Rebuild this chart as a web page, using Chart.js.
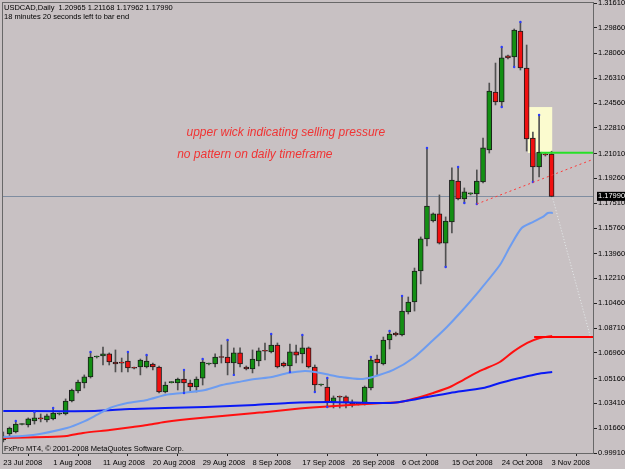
<!DOCTYPE html>
<html>
<head>
<meta charset="utf-8">
<title>USDCAD Daily</title>
<script src="https://cdn.jsdelivr.net/npm/chart.js@4.4.1/dist/chart.umd.min.js"></script>
<style>
  html, body { margin: 0; padding: 0; background: #c8c1c3; }
  #chart { display: block; }
</style>
</head>
<body>
<canvas id="chart" width="625" height="469"></canvas>
<script>
// USDCAD daily bars, 23 Jul 2008 .. 3 Nov 2008 (broker feed with Sunday bars)
const dateLabels = ['23 Jul 2008', '1 Aug 2008', '11 Aug 2008', '20 Aug 2008', '29 Aug 2008', '8 Sep 2008',
    '17 Sep 2008', '26 Sep 2008', '6 Oct 2008', '15 Oct 2008', '24 Oct 2008', '3 Nov 2008'];
const labelStep = 8; // one date label every 8 bars

const opens = [1.0083, 1.0125, 1.0139, 1.0192, 1.0188, 1.0217, 1.0238, 1.0224, 1.0231, 1.0266,
    1.0266, 1.0357, 1.0428, 1.0484, 1.0527, 1.0667, 1.0674, 1.0689, 1.0632, 1.0625,
    1.0639, 1.0590, 1.0597, 1.0597, 1.0618, 1.0597, 1.0421, 1.0487, 1.0484, 1.0512,
    1.0484, 1.0456, 1.0519, 1.0618, 1.0618, 1.0667, 1.0667, 1.0625, 1.0696, 1.0597,
    1.0583, 1.0639, 1.0710, 1.0703, 1.0752, 1.0625, 1.0604, 1.0703, 1.0689, 1.0731,
    1.0597, 1.0470, 1.0456, 1.0350, 1.0386, 1.0386, 1.0343, 1.0336, 1.0336, 1.0449,
    1.0653, 1.0618, 1.0787, 1.0836, 1.0822, 1.0984, 1.1055, 1.1273, 1.1499, 1.1625,
    1.1675, 1.1470, 1.1618, 1.1907, 1.1780, 1.1816, 1.1816, 1.1900, 1.2126, 1.2534,
    1.2464, 1.2788, 1.2781, 1.2964, 1.2703, 1.2210, 1.2006, 1.2097, 1.20965];
const highs = [1.0139, 1.0174, 1.0217, 1.0199, 1.0238, 1.0280, 1.0266, 1.0266, 1.0308, 1.0273,
    1.0372, 1.0442, 1.0505, 1.0541, 1.0703, 1.0674, 1.0738, 1.0696, 1.0717, 1.0660,
    1.0703, 1.0597, 1.0653, 1.0681, 1.0625, 1.0604, 1.0491, 1.0494, 1.0519, 1.0576,
    1.0505, 1.0527, 1.0653, 1.0625, 1.0689, 1.0752, 1.0787, 1.0731, 1.0731, 1.0604,
    1.0717, 1.0731, 1.0766, 1.0829, 1.0766, 1.0632, 1.0759, 1.0752, 1.0822, 1.0738,
    1.0611, 1.0477, 1.0519, 1.0393, 1.0393, 1.0393, 1.0365, 1.0343, 1.0463, 1.0667,
    1.0681, 1.0808, 1.0851, 1.0843, 1.1097, 1.1090, 1.1294, 1.1513, 1.2140, 1.1682,
    1.1809, 1.1654, 1.1999, 1.2006, 1.1858, 1.1823, 1.1985, 1.2210, 1.2597, 1.2738,
    1.2851, 1.2795, 1.2978, 1.3027, 1.2865, 1.2252, 1.2372, 1.2104, 1.21168];
const lows = [1.0069, 1.0104, 1.0132, 1.0188, 1.0174, 1.0195, 1.0210, 1.0210, 1.0224, 1.0259,
    1.0259, 1.0350, 1.0414, 1.0449, 1.0519, 1.0660, 1.0611, 1.0611, 1.0562, 1.0562,
    1.0562, 1.0583, 1.0541, 1.0590, 1.0576, 1.0414, 1.0414, 1.0484, 1.0435, 1.0414,
    1.0421, 1.0421, 1.0470, 1.0611, 1.0597, 1.0625, 1.0541, 1.0541, 1.0597, 1.0576,
    1.0555, 1.0604, 1.0646, 1.0696, 1.0590, 1.0597, 1.0562, 1.0625, 1.0625, 1.0590,
    1.0421, 1.0463, 1.0315, 1.0308, 1.0308, 1.0308, 1.0315, 1.0329, 1.0329, 1.0435,
    1.0541, 1.0611, 1.0724, 1.0815, 1.0815, 1.0970, 1.0991, 1.1182, 1.1449, 1.1618,
    1.1463, 1.1301, 1.1541, 1.1773, 1.1752, 1.1809, 1.1745, 1.1893, 1.2104, 1.2443,
    1.2428, 1.2767, 1.2710, 1.2689, 1.2118, 1.1900, 1.1935, 1.2083, 1.17962];
const closes = [1.0111, 1.0167, 1.0195, 1.0195, 1.0231, 1.0238, 1.0231, 1.0252, 1.0273, 1.0268,
    1.0357, 1.0435, 1.0491, 1.0527, 1.0667, 1.0669, 1.0689, 1.0632, 1.0618, 1.0624,
    1.0590, 1.0588, 1.0646, 1.0639, 1.0597, 1.0421, 1.0470, 1.0491, 1.0512, 1.0484,
    1.0456, 1.0512, 1.0632, 1.0620, 1.0667, 1.0664, 1.0625, 1.0696, 1.0618, 1.0583,
    1.0653, 1.0710, 1.0708, 1.0752, 1.0597, 1.0604, 1.0703, 1.0681, 1.0731, 1.0597,
    1.0470, 1.0472, 1.0350, 1.0379, 1.0384, 1.0343, 1.0329, 1.0338, 1.0456, 1.0646,
    1.0625, 1.0787, 1.0829, 1.0822, 1.0991, 1.1055, 1.1273, 1.1499, 1.1731, 1.1675,
    1.1470, 1.1625, 1.1914, 1.1780, 1.1830, 1.1818, 1.1907, 1.2140, 1.2541, 1.2464,
    1.2774, 1.2774, 1.2971, 1.2703, 1.2203, 1.2006, 1.2111, 1.2090, 1.17990];

// moving averages as [bar, price]
const maFast = [[0, 1.0104], [4.8, 1.0118], [10.2, 1.0167], [12.8, 1.0210], [15, 1.0259], [17.1, 1.0308],
    [19.9, 1.0343], [23.1, 1.0365], [26, 1.0400], [28.7, 1.0414], [32.4, 1.0435], [35.1, 1.0470],
    [37.7, 1.0491], [40.4, 1.0512], [43.1, 1.0527], [45.7, 1.0555], [48.4, 1.0569], [50, 1.0562],
    [52.4, 1.0541], [54, 1.0527], [57.3, 1.0512], [59.3, 1.0527], [62.6, 1.0576], [65.8, 1.0660],
    [69, 1.0787], [71.2, 1.0879], [73.3, 1.0977], [76.5, 1.1139], [79.7, 1.1315], [81.3, 1.1442],
    [83.2, 1.1576], [85, 1.1618], [86.6, 1.1654], [87.4, 1.1682], [88.2, 1.1682]];
const maSlowBlue = [[0, 1.0287], [14.7, 1.0287], [20.3, 1.0301], [25.9, 1.0308], [32.4, 1.0315],
    [40.4, 1.0329], [45.7, 1.0343], [52.4, 1.0350], [62.1, 1.0343], [66.4, 1.0372], [71.7, 1.0414],
    [77, 1.0449], [79.7, 1.0484], [82.9, 1.0519], [85.7, 1.0548], [88.1, 1.0562]];
const maSlowRed = [[0, 1.0097], [7, 1.0104], [10.2, 1.0111], [12.8, 1.0132], [17.1, 1.0153], [20.8, 1.0174],
    [23.1, 1.0188], [25.9, 1.0210], [31.6, 1.0238], [40.4, 1.0273], [42.3, 1.0280], [46.8, 1.0301],
    [50.8, 1.0315], [55.6, 1.0329], [60.9, 1.0343], [63.7, 1.0350], [66.4, 1.0379], [69, 1.0414],
    [71.7, 1.0456], [73.8, 1.0505], [76.5, 1.0569], [79.7, 1.0632], [81.8, 1.0703], [84.1, 1.0766],
    [86.1, 1.0801], [88.1, 1.0815]];

// fractal markers (bar indexes)
const fractalUp = [2, 5, 8, 14, 20, 23, 29, 32, 36, 43, 48, 52, 59, 62, 64, 68, 73, 80, 83, 86];
const fractalDown = [29, 37, 46, 50, 52, 71, 74, 76, 80, 82, 85];

// drawn objects
const trendLine = [[76.0, 1.1745], [94.8, 1.2062]];
const greenLevel = [[86.2, 1.2106], [94.81, 1.2106]];
const redLevel = [[85.2, 1.0808], [94.81, 1.0808]];
const projection = [[88.2, 1.1783], [94.2, 1.0815]];
const boxBars = [84.2, 88.1];
const boxPrices = [1.2104, 1.2428];
const bidPrice = 1.17990;

const priceTicks = [1.31610, 1.29860, 1.28060, 1.26310, 1.24560, 1.22810, 1.21010, 1.19260, 1.17510,
    1.15760, 1.13960, 1.12210, 1.10460, 1.08710, 1.06960, 1.05160, 1.03410, 1.01660, 0.99910];

const header1 = 'USDCAD,Daily  1.20965 1.21168 1.17962 1.17990';
const header2 = '18 minutes 20 seconds left to bar end';
const footer = 'FxPro MT4, \u00a9 2001-2008 MetaQuotes Software Corp.';
const notes = [
    { text: 'upper wick indicating selling pressure', bar: 29.4, price: 1.2245 },
    { text: 'no pattern on daily timeframe', bar: 27.9, price: 1.2090 }
];

const smallFont = "7.5px 'Liberation Sans', Arial, sans-serif";
const axisFont = { family: "'Liberation Sans', Arial, sans-serif", size: 7.5 };
const bullColor = '#138f13';
const bearColor = '#f01010';

const toPoints = arr => arr.map(p => ({ x: p[0], y: p[1] }));

const bodies = opens.map((o, i) => ({ x: i, y: [o, closes[i]] }));
const wicks = opens.map((o, i) => ({ x: i, y: [lows[i], highs[i]] }));
const bodyColors = opens.map((o, i) => closes[i] > o ? bullColor : bearColor);

// MT4 chart background (average of the dithered pink / grey)
const backgroundPlugin = {
    id: 'mtBackground',
    beforeDraw(chart) {
        const ctx = chart.ctx;
        ctx.save();
        ctx.fillStyle = '#c8c1c3';
        ctx.fillRect(0, 0, chart.width, chart.height);
        ctx.restore();
    }
};

const objectsPlugin = {
    id: 'mtObjects',
    beforeDatasetsDraw(chart) {
        const { ctx, chartArea: a, scales: { x, y } } = chart;
        ctx.save();
        // highlight rectangle
        const x1 = x.getPixelForValue(boxBars[0]);
        const x2 = x.getPixelForValue(boxBars[1]);
        const y1 = y.getPixelForValue(boxPrices[1]);
        const y2 = y.getPixelForValue(boxPrices[0]);
        ctx.fillStyle = '#fbfbcf';
        ctx.fillRect(x1, y1, x2 - x1, y2 - y1);
        // bid line
        const by = Math.round(y.getPixelForValue(bidPrice)) + 0.5;
        ctx.strokeStyle = '#7f8da0';
        ctx.lineWidth = 1;
        ctx.beginPath();
        ctx.moveTo(a.left, by);
        ctx.lineTo(a.right, by);
        ctx.stroke();
        ctx.restore();
    },
    afterDraw(chart) {
        const { ctx, chartArea: a, scales: { x, y } } = chart;
        ctx.save();
        // frame
        ctx.strokeStyle = '#686868';
        ctx.lineWidth = 1;
        ctx.strokeRect(a.left + 0.5, a.top - 0.5, a.right - a.left - 1, a.bottom - a.top + 1);

        // header and footer
        ctx.fillStyle = '#000';
        ctx.font = smallFont;
        ctx.textBaseline = 'alphabetic';
        ctx.textAlign = 'left';
        ctx.fillText(header1, 4, 10);
        ctx.fillText(header2, 4, 19);
        ctx.fillText(footer, 4, 451);

        // notes
        ctx.fillStyle = '#f03434';
        ctx.font = "italic 12px 'Liberation Sans', Arial, sans-serif";
        ctx.textBaseline = 'middle';
        notes.forEach(n => ctx.fillText(n.text, x.getPixelForValue(n.bar), y.getPixelForValue(n.price)));

        // current price box
        const py = y.getPixelForValue(bidPrice);
        ctx.fillStyle = '#000';
        ctx.fillRect(a.right + 3, py - 4.5, chart.width - a.right - 3, 9);
        ctx.fillStyle = '#fff';
        ctx.font = smallFont;
        ctx.fillText(bidPrice.toFixed(5), a.right + 4, py);
        ctx.restore();
    }
};

const lineStyle = (data, color, width, extra) => Object.assign({
    type: 'line',
    data: toPoints(data),
    borderColor: color,
    borderWidth: width,
    pointRadius: 0,
    tension: 0.25,
    fill: false
}, extra || {});

new Chart(document.getElementById('chart'), {
    type: 'bar',
    data: {
        datasets: [
            lineStyle(maFast, '#6d9cf0', 2, { order: 1 }),
            lineStyle(maSlowBlue, '#0a1af5', 2, { order: 1 }),
            lineStyle(maSlowRed, '#ff1010', 2, { order: 1 }),
            lineStyle(trendLine, '#ff3a3a', 1, { order: 0, tension: 0, borderDash: [2, 3] }),
            lineStyle(greenLevel, '#27e027', 2, { order: 0, tension: 0 }),
            lineStyle(redLevel, '#ff0000', 2, { order: 0, tension: 0 }),
            lineStyle(projection, 'rgba(232,238,238,0.9)', 1, { order: 0, tension: 0, borderDash: [1, 2] }),
            {
                type: 'line',
                data: fractalUp.map(i => ({ x: i, y: highs[i] })).concat(fractalDown.map(i => ({ x: i, y: lows[i] }))),
                showLine: false,
                pointRadius: 1.2,
                pointBorderWidth: 0,
                pointBackgroundColor: '#2b3cff',
                order: 0
            },
            {
                type: 'bar',
                data: bodies,
                backgroundColor: bodyColors,
                borderColor: '#1c1c1c',
                borderWidth: 1,
                borderSkipped: false,
                barThickness: 5,
                minBarLength: 1,
                grouped: false,
                order: 2
            },
            {
                type: 'bar',
                data: wicks,
                backgroundColor: '#505050',
                borderWidth: 0,
                barThickness: 1,
                grouped: false,
                order: 3
            }
        ]
    },
    options: {
        responsive: false,
        animation: false,
        devicePixelRatio: 1,
        layout: { padding: { left: 2, top: 3, right: 0, bottom: 0 }, autoPadding: false },
        plugins: {
            legend: { display: false },
            tooltip: { enabled: false }
        },
        scales: {
            x: {
                type: 'linear',
                min: -0.21,
                max: 94.81,
                offset: false,
                afterBuildTicks: scale => {
                    scale.ticks = dateLabels.map((d, k) => ({ value: k * labelStep }));
                },
                afterFit: scale => {
                    scale.height = 16;
                    scale.paddingLeft = 0;
                    scale.paddingRight = 0;
                },
                ticks: {
                    autoSkip: false,
                    maxRotation: 0,
                    align: 'start',
                    padding: 2,
                    color: '#000',
                    font: axisFont,
                    callback: v => dateLabels[Math.round(v / labelStep)]
                },
                grid: { drawOnChartArea: false, drawTicks: true, tickLength: 3, color: '#202020' },
                border: { display: false }
            },
            y: {
                type: 'linear',
                position: 'right',
                min: 0.99910,
                max: 1.31610,
                afterBuildTicks: scale => {
                    scale.ticks = priceTicks.map(v => ({ value: v }));
                },
                afterFit: scale => {
                    scale.width = 31;
                    scale.paddingTop = 0;
                    scale.paddingBottom = 0;
                },
                ticks: {
                    autoSkip: false,
                    padding: 1,
                    color: '#000',
                    font: axisFont,
                    callback: v => Number(v).toFixed(5)
                },
                grid: { drawOnChartArea: false, drawTicks: true, tickLength: 3, color: '#202020' },
                border: { display: false }
            }
        }
    },
    plugins: [backgroundPlugin, objectsPlugin]
});
</script>
</body>
</html>
